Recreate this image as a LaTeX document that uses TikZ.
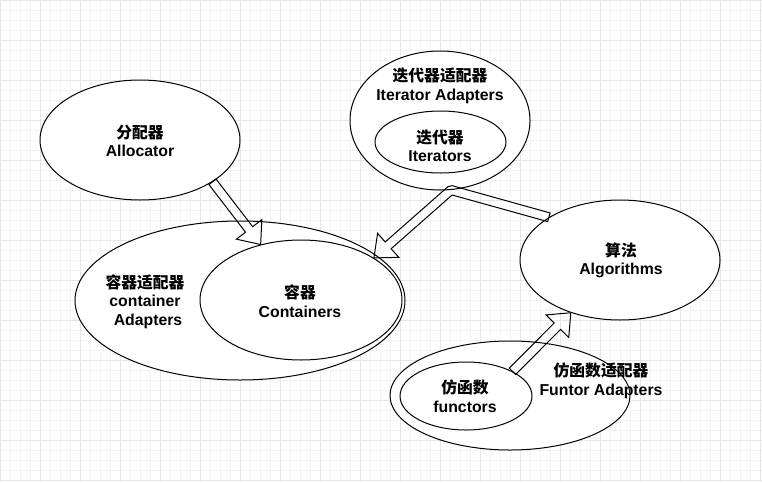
\documentclass[tikz,border=0pt]{standalone}
\usepackage{fontspec}
\setmainfont{Liberation Sans}
\newfontfamily\cjk{Noto Sans CJK SC}
\usetikzlibrary{shapes.geometric,calc}
\definecolor{gridminor}{HTML}{F3F3F3}
\definecolor{gridmajor}{HTML}{E6E6E6}
\tikzset{
  ell/.style={ellipse, draw=black, line width=1pt, fill=white, inner sep=0pt},
  lbl/.style={align=center, font=\fontsize{15.8}{18.5}\selectfont\bfseries, inner sep=0pt},
  blockarrow/.style={draw=black, line width=1pt, line join=miter},
  minorline/.style={draw=gridminor, line width=1pt},
  majorline/.style={draw=gridmajor, line width=1pt},
}
\def\fas{4.5pt}
\def\faw{16pt}
\def\fah{19pt}
% straight block arrow from #1 to #2
\newcommand\flexarr[2]{%
  \coordinate (fab) at ($(#2)!\fah!(#1)$);
  \draw[blockarrow] ($(#1)!\fas!90:(#2)$) -- ($(fab)!\fas!-90:(#1)$)
    -- ($(fab)!\faw!-90:(#1)$) -- (#2) -- ($(fab)!\faw!90:(#1)$)
    -- ($(fab)!\fas!90:(#1)$) -- ($(#1)!\fas!-90:(#2)$) -- cycle;}
% block arrow from #1 via #2 to #3 (left turn)
\newcommand\flexbent[3]{%
  \coordinate (fbb) at ($(#3)!\fah!(#2)$);
  \coordinate (fp1) at ($(#1)!\fas!90:(#2)$);
  \coordinate (fq1) at ($(#2)!\fas!-90:(#1)$);
  \coordinate (fq2) at ($(#2)!\fas!90:(#3)$);
  \coordinate (fq3) at ($(fbb)!\fas!-90:(#2)$);
  \coordinate (fin) at (intersection of fp1--fq1 and fq2--fq3);
  \draw[blockarrow] (fp1) -- (fin) -- (fq3)
    -- ($(fbb)!\faw!-90:(#2)$) -- (#3) -- ($(fbb)!\faw!90:(#2)$)
    -- ($(fbb)!\fas!90:(#2)$) -- ($(#2)!\fas!-90:(#3)$)
    -- ($(#2)!\fas!90:(#1)$) -- ($(#1)!\fas!-90:(#2)$) -- cycle;}
\begin{document}
\begin{tikzpicture}[x=1pt,y=-1pt]
\useasboundingbox (0,0) rectangle (762,482);
\fill[white] (0,0) rectangle (762,482);
% grid (offset by half a pixel for crisp lines)
\foreach \x in {0,10,...,760} \path[minorline] (\x+0.5,0) -- (\x+0.5,482);
\foreach \y in {0,10,...,480} \path[minorline] (0,\y+0.5) -- (762,\y+0.5);
\foreach \x in {0,40,...,760} \path[majorline] (\x+0.5,0) -- (\x+0.5,482);
\foreach \y in {0,40,...,480} \path[majorline] (0,\y+0.5) -- (762,\y+0.5);

% ellipses
\node[ell, minimum width=330, minimum height=159] (cadapt) at (240,300.5) {};
\node[ell, minimum width=202, minimum height=120] (cont) at (301,300) {};
\node[ell, minimum width=200, minimum height=120] (alloc) at (140,140) {};
\node[ell, minimum width=180, minimum height=139] (iadapt) at (440,120.5) {};
\node[ell, minimum width=131, minimum height=62] (iter) at (440.5,142) {};
\node[ell, minimum width=200, minimum height=120] (algo) at (620,260) {};
\node[ell, minimum width=240, minimum height=109] (fadapt) at (510,395.5) {};
\node[ell, minimum width=132, minimum height=68] (func) at (466,396) {};

% labels
\node[lbl] (alloct) at (140,141) {{\cjk 分配器}\\Allocator};
\node[lbl] (cadaptt) at (145,301.5) {{\cjk 容器适配器}\\container\\\hspace*{6pt}Adapters};
\node[lbl] (contt) at (300,301) {{\cjk 容器}\\Containers};
\node[lbl] (iadaptt) at (440,86) {{\cjk 迭代器适配器}\\Iterator Adapters};
\node[lbl] (itert) at (440,146) {{\cjk 迭代器}\\Iterators};
\node[lbl] (algot) at (621,260.5) {{\cjk 算法}\\Algorithms};
\node[lbl] (funct) at (465,396) {{\cjk 仿函数}\\functors};
\node[lbl] (fadaptt) at (601,381) {{\cjk 仿函数适配器}\\Funtor Adapters};

% connectors
\coordinate (a1s) at (alloc.-30.6);
\coordinate (a1e) at (cont.126.7);
\flexarr{a1s}{a1e}
\coordinate (a2s) at (algo.149.2);
\coordinate (a2m) at (451,190);
\coordinate (a2e) at (cont.30.8);
\flexbent{a2s}{a2m}{a2e}
\coordinate (a3s) at (func.28);
\coordinate (a3e) at (algo.-133.9);
\flexarr{a3s}{a3e}
\end{tikzpicture}
\end{document}
